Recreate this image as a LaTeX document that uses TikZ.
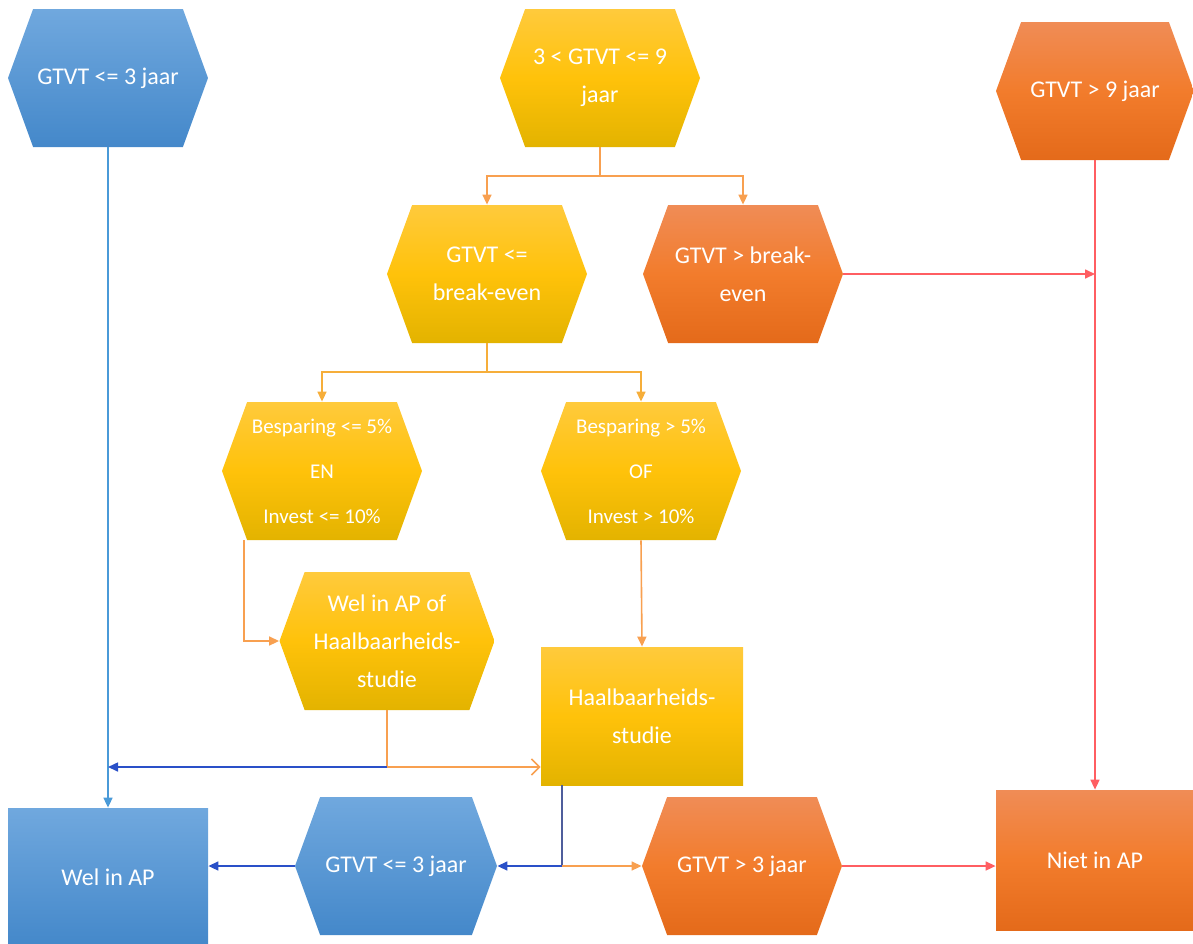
\documentclass[tikz,border=0pt]{standalone}
\usepackage{fontspec}
\setmainfont{Carlito}
\usetikzlibrary{shapes.symbols,arrows.meta}

\definecolor{bluT}{HTML}{70A8DE}
\definecolor{bluB}{HTML}{4488CA}
\definecolor{yelT}{HTML}{FFCA3C}
\definecolor{yelM}{HTML}{FFC20A}
\definecolor{yelB}{HTML}{E3B300}
\definecolor{oraT}{HTML}{F08C56}
\definecolor{oraM}{HTML}{F27C2C}
\definecolor{oraB}{HTML}{E46A1A}
\definecolor{lnBlue}{HTML}{4A9AD8}
\definecolor{lnDark}{HTML}{2A50C8}
\definecolor{lnSlate}{HTML}{4F5E9C}
\definecolor{lnOra}{HTML}{F8A050}
\definecolor{lnYel}{HTML}{F6AE3A}
\definecolor{lnRed}{HTML}{FF5E62}

\tikzset{
  hexa/.style={signal, signal to=east and west, signal pointer angle=140,
    minimum width=100pt, minimum height=69pt, inner sep=0pt, align=center,
    text=white, font=\fontsize{12}{19}\selectfont},
  box/.style={rectangle, minimum width=100pt, minimum height=69pt,
    inner sep=0pt, align=center, text=white, font=\fontsize{12}{19}\selectfont},
  small/.style={font=\fontsize{10.5}{22.5}\selectfont},
  blu/.style={top color=bluT, bottom color=bluB},
  yel/.style={top color=yelT, bottom color=yelB, middle color=yelM},
  ora/.style={top color=oraT, bottom color=oraB, middle color=oraM},
  arr/.style={-{Triangle[length=5pt,width=4.5pt]}},
  openarr/.style={-{Straight Barb[length=4pt,width=8pt]}},
  conn/.style={line width=0.8pt}
}

\begin{document}
\begin{tikzpicture}[x=0.5pt,y=-0.5pt]
\useasboundingbox (0,0) rectangle (1193,943);

% top row
\node[hexa,blu] (lo3) at (108,78) {GTVT <= 3 jaar};
\node[hexa,yel] (mid9) at (600,78) {3 < GTVT <= 9\\jaar};
\node[hexa,ora,minimum width=99pt] (hi9) at (1095,91) {GTVT > 9 jaar};

% break-even
\node[hexa,yel] (belo) at (487,274) {GTVT <=\\break-even};
\node[hexa,ora] (bebo) at (743,274) {GTVT > break-\\even};

% besparing / invest
\node[hexa,yel,small] (besA) at (322,471) {Besparing <= 5\%\\EN\\Invest <= 10\%};
\node[hexa,yel,small] (besB) at (641,471) {Besparing > 5\%\\OF\\Invest > 10\%};

\node[hexa,yel,minimum width=107.5pt] (welof) at (387,641) {Wel in AP of\\Haalbaarheids-\\studie};
\node[box,yel,minimum width=101pt] (haal) at (642,716) {Haalbaarheids-\\studie};

% bottom row
\node[box,blu] (welap) at (108,877) {Wel in AP};
\node[hexa,blu,minimum width=101pt] (lo3b) at (396,866) {GTVT <= 3 jaar};
\node[hexa,ora] (hi3) at (742,866) {GTVT > 3 jaar};
\node[box,ora,minimum width=99pt,minimum height=70pt] (niet) at (1095,860) {Niet in AP};

% connectors
\draw[conn,lnBlue,arr] (lo3.south) -- (welap.north);

\coordinate (splitA) at (600,176);
\draw[conn,lnOra] (mid9.south) -- (splitA);
\draw[conn,lnOra,arr] (splitA) -| (belo.north);
\draw[conn,lnOra,arr] (splitA) -| (bebo.north);

\coordinate (joinR) at (hi9.south |- bebo.east);
\draw[conn,lnRed,arr] (bebo.east) -- (joinR);
\draw[conn,lnRed,arr] (hi9.south) -- (niet.north);

\coordinate (splitD) at (487,372);
\draw[conn,lnYel] (belo.south) -- (splitD);
\draw[conn,lnYel,arr] (splitD) -| (besA.north);
\draw[conn,lnYel,arr] (splitD) -| (besB.north);

\draw[conn,lnOra,arr] ([xshift=-39pt]besA.south) |- (welof.west);
\draw[conn,lnOra,arr] (besB.south) -- (haal.north);

\coordinate (splitB) at (387,767);
\draw[conn,lnOra] (welof.south) -- (splitB);
\draw[conn,lnDark,arr] (splitB) -- (splitB -| lo3.south);
\draw[conn,lnOra,openarr] (splitB) -- (splitB -| haal.west);

\coordinate (splitC) at (562,866);
\draw[conn,lnSlate] ([xshift=-40pt]haal.south) -- (splitC);
\draw[conn,lnDark,arr] (splitC) -- (lo3b.east);
\draw[conn,lnOra,arr] (splitC) -- (hi3.west);
\draw[conn,lnDark,arr] (lo3b.west) -- (lo3b.west -| welap.east);
\draw[conn,lnRed,arr] (hi3.east) -- (hi3.east -| niet.west);
\end{tikzpicture}
\end{document}
